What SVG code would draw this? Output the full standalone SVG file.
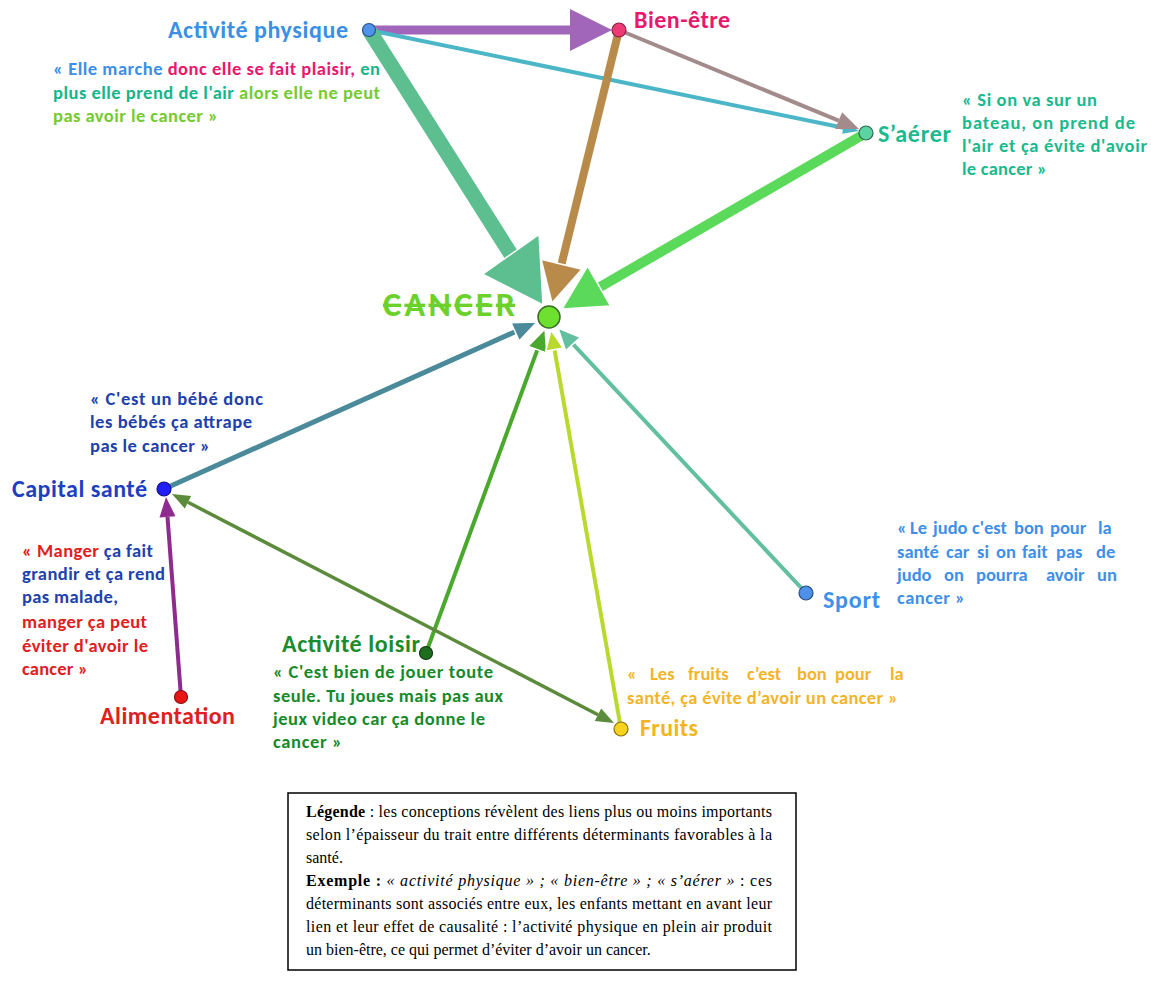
<svg xmlns="http://www.w3.org/2000/svg" width="1151" height="995" viewBox="0 0 1151 995">
<style>
text{font-family:Carlito,Lato,"Open Sans",sans-serif;font-weight:bold}
.h{font-size:24px}
.q{font-size:18.5px}
.leg{font-family:"Liberation Serif","Times New Roman",serif;font-weight:normal;font-size:16px;fill:#000}
.b{font-weight:bold}
.i{font-style:italic}
.nd{stroke-width:1.2}
.hd{stroke:#fff;stroke-width:1.5;stroke-linejoin:miter}
</style>
<rect width="1151" height="995" fill="#fff"/>
<g id="connectors">
 <g id="e-ap-bien"><line x1="369" y1="30" x2="572" y2="30" stroke="#a165b9" stroke-width="9"/><polygon points="570,9 570,51 612,30" fill="#a165b9"/></g>
 <g id="e-ap-saerer"><line x1="369" y1="30" x2="843.3" y2="127.8" stroke="#4cb6c9" stroke-width="4"/><polygon points="842.1,133.7 844.5,121.9 859,131" fill="#4cb6c9"/></g>
 <g id="e-bien-saerer"><line x1="619" y1="30" x2="838.7" y2="120.6" stroke="#a38b8b" stroke-width="4"/><polygon points="835.2,128.9 842.1,112.3 859,129" fill="#a38b8b"/></g>
 <g id="e-ap-cancer"><line x1="369" y1="30" x2="510.9" y2="254.3" stroke="#5dbf8f" stroke-width="15"/><polygon class="hd" points="482.7,274.2 539.1,234.4 543,305" fill="#5dbf8f"/></g>
 <g id="e-bien-cancer"><line x1="619" y1="30" x2="561.5" y2="264.2" stroke="#b98b4b" stroke-width="8"/><polygon class="hd" points="541.1,259.2 581.9,269.2 552,303" fill="#b98b4b"/></g>
 <g id="e-saerer-cancer"><line x1="866" y1="133" x2="600" y2="287" stroke="#5ad95b" stroke-width="10"/><polygon class="hd" points="587.6,266.2 610.6,306 562,309" fill="#5ad95b"/></g>
 <g id="e-capital-cancer"><line x1="164" y1="489" x2="515.1" y2="331.8" stroke="#4a8a9a" stroke-width="5"/><polygon class="hd" points="519.2,340.9 511,322.7 537,322" fill="#4a8a9a"/></g>
 <g id="e-alim-capital"><line x1="181" y1="697" x2="167.5" y2="516.9" stroke="#8e2b8e" stroke-width="4"/><polygon points="175.5,516.3 159.5,517.5 166,497" fill="#8e2b8e"/></g>
 <g id="e-loisir-cancer"><line x1="426" y1="653" x2="537.4" y2="349.6" stroke="#4aa82c" stroke-width="4"/><polygon class="hd" points="546.8,353.1 528,346.2 545,329" fill="#4aa82c"/></g>
 <g id="e-fruits-cancer"><line x1="621" y1="729" x2="554.5" y2="349.7" stroke="#bad92f" stroke-width="4"/><polygon class="hd" points="563.3,348.1 545.6,351.3 551,330" fill="#bad92f"/></g>
 <g id="e-sport-cancer"><line x1="806" y1="593" x2="573" y2="344.1" stroke="#62bfa0" stroke-width="4"/><polygon class="hd" points="580.3,337.3 565.7,350.9 558,328" fill="#62bfa0"/></g>
 <g id="e-capital-fruits"><line x1="188" y1="502.3" x2="598" y2="714.7" stroke="#5b8b3b" stroke-width="3.5"/><polygon points="594.8,720.9 601.2,708.5 614,723" fill="#5b8b3b"/><polygon points="184.8,508.5 191.2,496.1 172,494" fill="#5b8b3b"/></g>
</g>

<g id="n-activite-physique">
 <circle class="nd" cx="369" cy="30" r="6.5" fill="#4f94ea" stroke="#2b4f8a"/>
 <text class="h" x="168" y="38" textLength="180" fill="#3b8fe4">Activité physique</text>
 <text class="q" x="53" y="75" textLength="327"><tspan fill="#3b8fe4">« Elle marche </tspan><tspan fill="#e8196c">donc elle se fait plaisir, </tspan><tspan fill="#16b58a">en</tspan></text>
 <text class="q" x="53" y="99" textLength="327"><tspan fill="#16b58a">plus elle prend de l'air </tspan><tspan fill="#74cb30">alors elle ne peut</tspan></text>
 <text class="q" x="53" y="122" textLength="165" fill="#74cb30">pas avoir le cancer »</text>
</g>

<g id="n-bien-etre">
 <circle class="nd" cx="619" cy="30" r="7" fill="#ec3b74" stroke="#8f1e43"/>
 <text class="h" x="634" y="28" textLength="96" fill="#e8196c">Bien-être</text>
</g>

<g id="n-saerer">
 <circle class="nd" cx="866" cy="133" r="7" fill="#5bd4a2" stroke="#2c6b52"/>
 <text class="h" x="878" y="142" textLength="73" fill="#1ab98e">S’aérer</text>
 <text class="q" x="962" y="106" textLength="135" fill="#1ab98e">« Si on va sur un</text>
 <text class="q" x="962" y="129" textLength="173" fill="#1ab98e">bateau, on prend de</text>
 <text class="q" x="962" y="152" textLength="185" fill="#1ab98e">l'air et ça évite d'avoir</text>
 <text class="q" x="962" y="175" textLength="85" fill="#1ab98e">le cancer »</text>
</g>

<g id="n-cancer">
 <circle cx="549" cy="317" r="11" fill="#6ee02e" stroke="#3b6d2a" stroke-width="1.5"/>
 <text x="383" y="316" font-size="34" textLength="132" fill="#6dd12c" text-decoration="line-through">CANCER</text>
</g>

<g id="n-capital-sante">
 <circle class="nd" cx="164" cy="489" r="7" fill="#1f1ff5" stroke="#10108a"/>
 <text class="h" x="12" y="497" textLength="135" fill="#1e3fbf">Capital santé</text>
 <text class="q" x="90" y="405" textLength="173" fill="#2040ac">«  C'est un bébé donc</text>
 <text class="q" x="90" y="428" textLength="162" fill="#2040ac">les bébés ça attrape</text>
 <text class="q" x="90" y="452" textLength="120" fill="#2040ac">pas le cancer »</text>
</g>

<g id="n-alimentation">
 <circle class="nd" cx="181" cy="697" r="6.5" fill="#e81515" stroke="#8a1010"/>
 <text class="h" x="100" y="724" textLength="135" fill="#e0201e">Alimentation</text>
 <text class="q" x="22" y="557" textLength="131"><tspan fill="#e0201e">« Manger</tspan><tspan fill="#2141ad"> ça fait</tspan></text>
 <text class="q" x="22" y="580" textLength="143" fill="#2141ad">grandir et ça rend</text>
 <text class="q" x="22" y="603" textLength="96" fill="#2141ad">pas malade,</text>
 <text class="q" x="22" y="628" textLength="125" fill="#e0201e">manger ça peut</text>
 <text class="q" x="22" y="652" textLength="126" fill="#e0201e">éviter d'avoir le</text>
 <text class="q" x="22" y="675" textLength="66" fill="#e0201e">cancer »</text>
</g>

<g id="n-activite-loisir">
 <circle class="nd" cx="426" cy="653" r="6.5" fill="#1f6e1f" stroke="#0f3a0f"/>
 <text class="h" x="282" y="652" textLength="138" fill="#1a8c2c">Activité loisir</text>
 <text class="q" x="273" y="678" textLength="220" fill="#168a2a">«  C'est bien de jouer toute</text>
 <text class="q" x="273" y="702" textLength="230" fill="#168a2a">seule. Tu joues mais pas aux</text>
 <text class="q" x="273" y="725" textLength="212" fill="#168a2a">jeux video car ça donne le</text>
 <text class="q" x="273" y="748" textLength="69" fill="#168a2a">cancer »</text>
</g>

<g id="n-fruits">
 <circle class="nd" cx="621" cy="729" r="7" fill="#f7d21e" stroke="#8a7010"/>
 <text class="h" x="640" y="736" textLength="58" fill="#f4b41d">Fruits</text>
 <text class="q" y="680" fill="#f2b52a"><tspan x="627">«</tspan><tspan x="650">Les</tspan><tspan x="688">fruits</tspan><tspan x="747">c’est</tspan><tspan x="797">bon</tspan><tspan x="835">pour</tspan><tspan x="890">la</tspan></text>
 <text class="q" x="627" y="704" textLength="271" fill="#f2b52a">santé, ça évite d’avoir un cancer »</text>
</g>

<g id="n-sport">
 <circle class="nd" cx="806" cy="593" r="7" fill="#4f90e8" stroke="#2a4a80"/>
 <text class="h" x="823" y="608" textLength="57" fill="#3f90e6">Sport</text>
 <text class="q" y="534" fill="#3f90e6"><tspan x="897">«</tspan><tspan x="910">Le</tspan><tspan x="933">judo</tspan><tspan x="972">c'est</tspan><tspan x="1014">bon</tspan><tspan x="1050">pour</tspan><tspan x="1098">la</tspan></text>
 <text class="q" y="558" fill="#3f90e6"><tspan x="897">santé</tspan><tspan x="946">car</tspan><tspan x="977">si</tspan><tspan x="996">on</tspan><tspan x="1022">fait</tspan><tspan x="1056">pas</tspan><tspan x="1096">de</tspan></text>
 <text class="q" y="581" fill="#3f90e6"><tspan x="897">judo</tspan><tspan x="944">on</tspan><tspan x="976">pourra</tspan><tspan x="1046">avoir</tspan><tspan x="1097">un</tspan></text>
 <text class="q" x="897" y="604" textLength="68" fill="#3f90e6">cancer »</text>
</g>

<g id="legende">
 <rect x="288" y="793" width="508" height="177" fill="none" stroke="#000" stroke-width="1.5"/>
 <text class="leg" x="306" y="817" textLength="466"><tspan class="b">Légende</tspan> : les conceptions révèlent des liens plus ou moins importants</text>
 <text class="leg" x="306" y="840" textLength="466">selon l’épaisseur du trait entre différents déterminants favorables à la</text>
 <text class="leg" x="306" y="863">santé.</text>
 <text class="leg" x="306" y="886" textLength="466"><tspan class="b">Exemple :</tspan> <tspan class="i">« activité physique » ; « bien-être » ; « s’aérer »</tspan> : ces</text>
 <text class="leg" x="306" y="909" textLength="466">déterminants sont associés entre eux, les enfants mettant en avant leur</text>
 <text class="leg" x="306" y="932" textLength="466">lien et leur effet de causalité : l’activité physique en plein air produit</text>
 <text class="leg" x="306" y="955">un bien-être, ce qui permet d’éviter d’avoir un cancer.</text>
</g>
</svg>
